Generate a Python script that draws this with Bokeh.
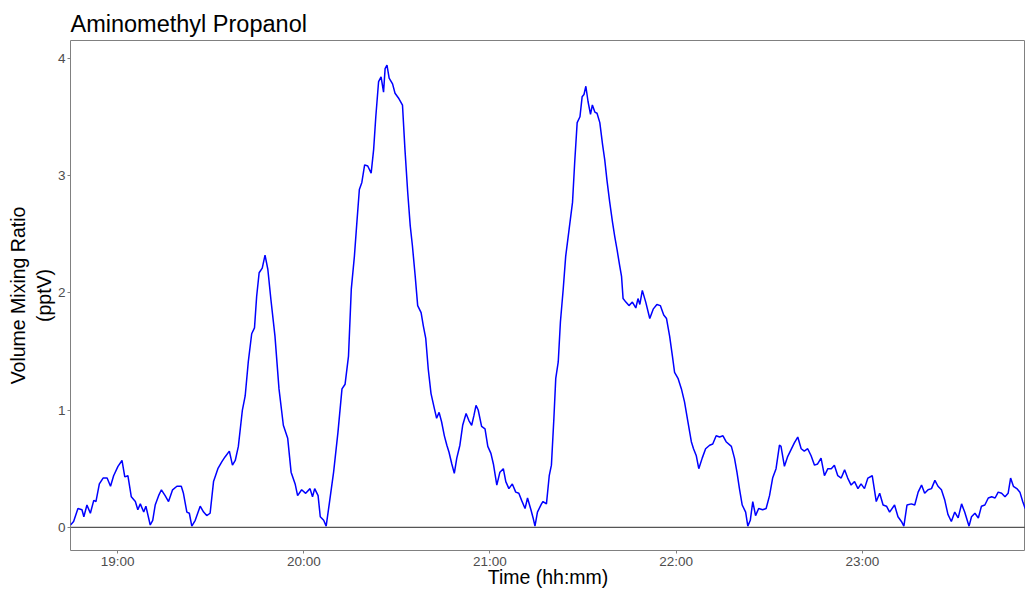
from bokeh.plotting import figure
from bokeh.models import Span, FixedTicker, Range1d
from bokeh.embed import file_html
from bokeh.resources import INLINE

# Time in minutes after 18:00, and volume mixing ratio (pptV)
minutes = [
    44.8, 45.8, 47.2, 48.5, 49.1, 50.1, 51.2, 52.3, 53.0, 54.1, 55.3, 56.6, 57.7, 58.7,
    60.1, 61.4, 62.3, 63.3, 64.4, 65.7, 66.5, 67.3, 68.4, 69.1, 70.5, 71.3, 72.1, 73.2,
    74.1, 75.3, 76.4, 77.7, 79.1, 80.5, 81.2, 82.3, 83.1, 83.9, 85.0, 86.6, 87.7, 88.7,
    89.8, 90.9, 92.3, 93.6, 94.6, 96.0, 97.0, 97.9, 98.9, 100.2, 101.1, 102.1, 103.2,
    104.1, 104.8, 105.6, 106.6, 107.5, 108.4, 109.4, 110.7, 112.0, 113.4, 114.8, 115.9,
    117.2, 118.0, 119.3, 120.6, 122.0, 122.8, 123.5, 124.6, 125.3, 126.4, 127.2, 128.2,
    129.6, 131.0, 132.3, 133.3, 134.4, 135.3, 136.3, 137.1, 137.9, 138.7, 139.6, 140.6,
    141.7, 142.5, 143.2, 144.1, 144.9, 145.7, 146.2, 146.8, 147.5, 148.6, 149.4, 150.5,
    151.8, 152.6, 153.5, 154.3, 155.0, 155.9, 156.7, 157.8, 158.5, 159.3, 160.1, 161.0,
    162.1, 162.8, 163.6, 164.4, 165.3, 166.1, 166.8, 167.7, 168.5, 169.3, 170.3, 171.2,
    172.3, 173.2, 174.1, 174.8, 175.5, 176.2, 177.3, 178.4, 179.3, 180.3, 181.1, 182.2,
    183.2, 184.3, 185.1, 186.1, 187.2, 188.3, 189.3, 190.2, 191.3, 192.1, 193.2, 193.9,
    194.5, 195.3, 196.6, 197.1, 198.2, 199.1, 199.8, 200.6, 201.2, 202.0, 202.7, 203.6,
    204.4, 205.5, 206.6, 207.3, 208.1, 209.0, 209.7, 210.3, 210.9, 211.6, 212.4, 213.0,
    213.8, 214.5, 215.4, 216.3, 217.0, 217.7, 218.6, 219.5, 220.2, 221.0, 221.8, 222.4,
    222.9, 223.8, 224.8, 225.9, 227.0, 227.7, 228.3, 229.1, 230.2, 231.5, 232.6, 233.8,
    234.9, 236.0, 236.9, 237.9, 238.8, 239.5, 240.6, 241.7, 242.7, 243.8, 244.9, 245.6,
    246.5, 247.3, 248.4, 249.5, 250.8, 251.8, 252.9, 254.0, 255.1, 256.1, 257.8, 258.8,
    259.6, 260.4, 261.3, 262.4, 263.1, 263.9, 264.7, 265.6, 266.6, 267.9, 269.0, 270.1,
    271.1, 272.2, 273.3, 273.8, 274.9, 275.9, 277.0, 278.1, 279.2, 280.3, 281.3, 282.4,
    283.5, 284.6, 285.6, 286.7, 287.8, 288.9, 290.0, 291.0, 292.1, 293.2, 294.3, 295.3,
    296.4, 297.5, 298.6, 299.6, 300.7, 301.8, 303.2, 304.5, 305.6, 306.7, 307.8, 308.8,
    310.4, 311.5, 312.6, 313.4, 314.4, 315.8, 316.9, 318.0, 319.1, 320.1, 321.2, 322.3,
    323.4, 324.4, 325.5, 326.6, 327.6, 328.7, 329.8, 330.9, 332.0, 333.0, 334.4, 335.2,
    336.3, 337.4, 338.4, 339.5, 340.6, 341.7, 342.8, 343.8, 344.9, 346.0, 347.0, 347.8,
    348.7, 349.8, 350.8, 351.7, 352.5,
]
vmr = [
    0.02, 0.05, 0.16, 0.15, 0.09, 0.19, 0.12, 0.23, 0.22, 0.37, 0.42, 0.42, 0.35, 0.44,
    0.52, 0.57, 0.43, 0.44, 0.26, 0.22, 0.15, 0.20, 0.13, 0.18, 0.02, 0.06, 0.19, 0.27,
    0.32, 0.27, 0.22, 0.32, 0.35, 0.35, 0.29, 0.13, 0.12, 0.01, 0.06, 0.18, 0.13, 0.10,
    0.12, 0.39, 0.50, 0.56, 0.60, 0.65, 0.53, 0.57, 0.69, 1.00, 1.12, 1.41, 1.65,
    1.70, 1.97, 2.17, 2.21, 2.32, 2.20, 1.94, 1.63, 1.18, 0.87, 0.76, 0.47,
    0.37, 0.27, 0.32, 0.29, 0.33, 0.26, 0.33, 0.27, 0.09, 0.06, 0.01, 0.20,
    0.47, 0.81, 1.18, 1.22, 1.46, 2.03, 2.31, 2.60, 2.88, 2.94, 3.09, 3.08,
    3.02, 3.22, 3.50, 3.80, 3.84, 3.71, 3.91, 3.94, 3.83, 3.78, 3.70, 3.66,
    3.60, 3.22, 2.85, 2.57, 2.40, 2.14, 1.89, 1.83, 1.72, 1.61, 1.35, 1.14,
    1.01, 0.93, 0.98, 0.90, 0.78, 0.70, 0.64, 0.54, 0.46, 0.59, 0.70, 0.87,
    0.97, 0.91, 0.87, 0.95, 1.04, 1.00, 0.86, 0.84, 0.69, 0.63, 0.54, 0.36,
    0.47, 0.50, 0.39, 0.33, 0.37, 0.30, 0.29, 0.23, 0.16, 0.25, 0.15, 0.08,
    0.01, 0.13, 0.20, 0.22, 0.20, 0.44, 0.53, 0.93, 1.27, 1.41, 1.75, 2.03,
    2.31, 2.54, 2.77, 3.11, 3.45, 3.50, 3.67, 3.69, 3.76, 3.63, 3.52, 3.60,
    3.54, 3.53, 3.45, 3.26, 3.13, 2.96, 2.77, 2.60, 2.48, 2.36, 2.23, 2.14,
    1.95, 1.92, 1.89, 1.92, 1.87, 1.95, 1.90, 2.02, 1.92, 1.78, 1.86, 1.90,
    1.89, 1.81, 1.78, 1.63, 1.46, 1.32, 1.27, 1.18, 1.07, 0.90, 0.73, 0.67,
    0.61, 0.50, 0.59, 0.67, 0.70, 0.71, 0.78, 0.77, 0.78, 0.73, 0.69, 0.59,
    0.47, 0.33, 0.19, 0.13, 0.01, 0.06, 0.22, 0.10, 0.16, 0.15, 0.16, 0.27,
    0.42, 0.50, 0.70, 0.69, 0.52, 0.60, 0.66, 0.72, 0.77, 0.67, 0.65, 0.67,
    0.61, 0.53, 0.54, 0.59, 0.44, 0.50, 0.50, 0.53, 0.44, 0.42, 0.49, 0.42,
    0.36, 0.39, 0.33, 0.37, 0.33, 0.42, 0.44, 0.22, 0.29, 0.19, 0.18, 0.13,
    0.19, 0.09, 0.05, 0.01, 0.19, 0.20, 0.19, 0.30, 0.36, 0.29, 0.32, 0.33,
    0.40, 0.35, 0.32, 0.23, 0.11, 0.05, 0.13, 0.08, 0.20, 0.13, 0.01, 0.09,
    0.12, 0.08, 0.18, 0.19, 0.25, 0.26, 0.25, 0.30, 0.29, 0.26, 0.29, 0.42,
    0.35, 0.33, 0.30, 0.22, 0.16,
]
tick_labels = ["19:00", "20:00", "21:00", "22:00", "23:00"]
y_ticks = [0, 1, 2, 3, 4]

tick_pos = [int(t[:2]) * 60 + int(t[3:]) - 18 * 60 for t in tick_labels]

FONT = "Liberation Sans"
p = figure(
    width=1025, height=590, output_backend="svg", toolbar_location=None,
    x_range=Range1d(44.8, 352.6), y_range=Range1d(-0.1975, 4.15),
    title="Aminomethyl Propanol",
    min_border_left=70, min_border_right=0, min_border_top=40, min_border_bottom=38,
)
p.line(minutes, vmr, line_color="#0000FF", line_width=1.5)
p.add_layout(Span(location=0, dimension="width", line_color="#555555", line_width=1.2))

p.title.text_font = FONT
p.title.text_font_size = "23.5px"
p.title.text_font_style = "normal"
p.title.text_color = "black"
p.title.align = "left"
p.title.offset = 0
p.title.standoff = 7

p.grid.visible = False
p.outline_line_color = "#808080"
p.outline_line_width = 1
p.background_fill_color = "white"
p.border_fill_color = "white"

p.xaxis.ticker = FixedTicker(ticks=tick_pos)
p.xaxis.major_label_overrides = {pos: lab for pos, lab in zip(tick_pos, tick_labels)}
p.yaxis.ticker = FixedTicker(ticks=y_ticks)
p.xaxis.axis_label = "Time (hh:mm)"
p.yaxis.axis_label = "Volume Mixing Ratio\n(pptV)"

for ax in (p.xaxis[0], p.yaxis[0]):
    ax.axis_line_color = None
    ax.minor_tick_line_color = None
    ax.major_tick_line_color = "#808080"
    ax.major_tick_in = 0
    ax.major_tick_out = 3
    ax.major_label_text_font = FONT
    ax.major_label_text_font_size = "13.5px"
    ax.major_label_text_color = "#4D4D4D"
    ax.major_label_standoff = 2
    ax.axis_label_text_font = FONT
    ax.axis_label_text_font_size = "19.5px"
    ax.axis_label_text_font_style = "normal"
    ax.axis_label_text_color = "black"

p.xaxis[0].major_label_standoff = 0
p.xaxis[0].axis_label_standoff = -6
p.yaxis[0].axis_label_standoff = 0

open("out.html", "w").write(file_html(p, INLINE))
